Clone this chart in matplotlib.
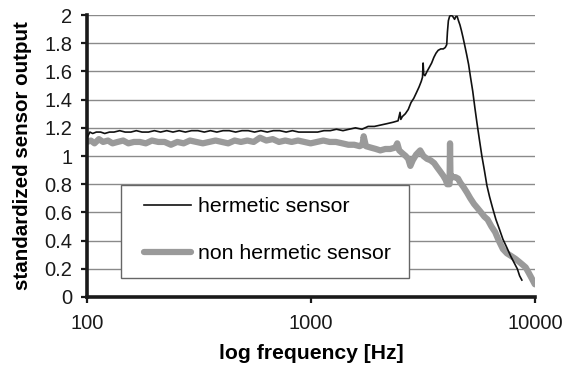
import matplotlib
matplotlib.use("Agg")
import matplotlib.pyplot as plt
from matplotlib.ticker import FixedLocator, NullLocator
from matplotlib.patches import Rectangle

plt.rcParams['font.family'] = ['Liberation Sans', 'DejaVu Sans']

# hermetic sensor (black)
herm_freq = [100, 103, 106, 110, 115, 120, 126, 132, 140, 148,
             157, 166, 176, 188, 200, 213, 227, 242, 258, 275,
             293, 313, 334, 356, 380, 405, 432, 461, 492, 525,
             560, 598, 638, 680, 726, 775, 827, 882, 941, 1004,
             1071, 1143, 1220, 1300, 1390, 1480, 1580, 1690, 1800, 1920,
             2050, 2190, 2330, 2450, 2500, 2520, 2560, 2640, 2720, 2800,
             2880, 2960, 3040, 3110, 3150, 3170, 3190, 3230, 3300, 3380,
             3460, 3540, 3620, 3700, 3800, 3900, 3980, 4040, 4070, 4110,
             4160, 4220, 4300, 4380, 4440, 4500, 4560, 4630, 4700, 4780,
             4870, 4960, 5060, 5160, 5280, 5400, 5520, 5650, 5800, 5950,
             6110, 6280, 6480, 6700, 6950, 7200, 7500, 7800, 8100, 8350,
             8550, 8750]
herm_vals = [1.13, 1.17, 1.16, 1.17, 1.17, 1.16, 1.17, 1.17, 1.18, 1.17,
             1.17, 1.18, 1.17, 1.17, 1.18, 1.17, 1.18, 1.17, 1.18, 1.17,
             1.18, 1.18, 1.17, 1.18, 1.17, 1.18, 1.18, 1.17, 1.18, 1.18,
             1.17, 1.18, 1.17, 1.18, 1.18, 1.17, 1.18, 1.17, 1.17, 1.17,
             1.17, 1.18, 1.18, 1.19, 1.18, 1.19, 1.20, 1.19, 1.21, 1.21,
             1.22, 1.23, 1.24, 1.25, 1.31, 1.26, 1.28, 1.30, 1.33, 1.38,
             1.41, 1.45, 1.49, 1.53, 1.56, 1.66, 1.58, 1.57, 1.60, 1.63,
             1.66, 1.70, 1.73, 1.75, 1.76, 1.76, 1.77, 1.79, 1.88, 1.96,
             1.99, 2.00, 1.99, 1.97, 1.99, 1.99, 1.96, 1.93, 1.89, 1.84,
             1.78, 1.72, 1.65, 1.56, 1.46, 1.34, 1.23, 1.12, 1.00, 0.90,
             0.79, 0.71, 0.63, 0.55, 0.48, 0.41, 0.35, 0.29, 0.24, 0.20,
             0.15, 0.12]

# non hermetic sensor (gray)
nonh_freq = [100, 104, 108, 113, 118, 124, 130, 137, 145, 153,
             162, 172, 183, 195, 208, 222, 237, 253, 270, 288,
             308, 329, 351, 375, 400, 427, 456, 487, 520, 555,
             592, 632, 675, 720, 768, 820, 875, 934, 997, 1064,
             1136, 1212, 1293, 1380, 1470, 1560, 1650, 1700, 1720, 1760,
             1850, 1950, 2040, 2150, 2260, 2380, 2430, 2480, 2560, 2650,
             2720, 2780, 2850, 2950, 3075, 3180, 3300, 3420, 3550, 3660,
             3780, 3900, 4000, 4060, 4120, 4160, 4180, 4200, 4240, 4320,
             4420, 4540, 4650, 4800, 4980, 5150, 5350, 5550, 5750, 5950,
             6150, 6400, 6650, 6900, 7200, 7500, 7850, 8200, 8500, 8800,
             9100, 9400, 9700, 10000]
nonh_vals = [1.10, 1.11, 1.09, 1.12, 1.10, 1.11, 1.09, 1.10, 1.11, 1.09,
             1.10, 1.10, 1.09, 1.11, 1.10, 1.10, 1.08, 1.10, 1.09, 1.11,
             1.10, 1.09, 1.10, 1.11, 1.10, 1.09, 1.11, 1.10, 1.11, 1.10,
             1.13, 1.11, 1.12, 1.10, 1.11, 1.10, 1.11, 1.10, 1.09, 1.10,
             1.11, 1.10, 1.10, 1.09, 1.08, 1.08, 1.07, 1.08, 1.14, 1.07,
             1.06, 1.05, 1.04, 1.05, 1.05, 1.06, 1.09, 1.04, 1.02, 1.00,
             0.98, 0.93, 0.97, 1.01, 1.04, 1.00, 0.98, 0.97, 0.95, 0.92,
             0.89, 0.86, 0.83, 0.80, 0.80, 0.80, 1.09, 0.84, 0.86, 0.85,
             0.85, 0.84, 0.81, 0.78, 0.74, 0.70, 0.66, 0.63, 0.60, 0.57,
             0.55, 0.50, 0.46, 0.40, 0.34, 0.31, 0.29, 0.27, 0.25, 0.23,
             0.21, 0.17, 0.13, 0.09]

y_ticks = [0, 0.2, 0.4, 0.6, 0.8, 1.0, 1.2, 1.4, 1.6, 1.8, 2.0]
y_labels = ['0', '0.2', '0.4', '0.6', '0.8', '1', '1.2', '1.4', '1.6', '1.8', '2']
x_ticks = [100, 1000, 10000]
x_labels = ['100', '1000', '10000']

fig = plt.figure(figsize=(5.64, 3.68), dpi=100)
ax = fig.add_axes([0.1543, 0.193, 0.794, 0.766])

for yv in y_ticks[1:]:
    ax.axhline(yv, color='#8a8a8a', lw=1.0, zorder=1)

ln2, = ax.plot(nonh_freq, nonh_vals, color='#9a9a9a', lw=4.5, solid_capstyle='round',
               solid_joinstyle='round', zorder=2)
ln1, = ax.plot(herm_freq, herm_vals, color='#111111', lw=1.2, zorder=3)

ax.set_xscale('log')
ax.set_xlim(100, 10000)
ax.set_ylim(0, 2)
ax.xaxis.set_major_locator(FixedLocator(x_ticks))
ax.xaxis.set_minor_locator(NullLocator())
ax.set_xticklabels(x_labels)
ax.set_yticks(y_ticks)
ax.set_yticklabels(y_labels)

for s in ['top', 'right']:
    ax.spines[s].set_visible(False)
for s in ['left', 'bottom']:
    ax.spines[s].set_linewidth(2.6)
    ax.spines[s].set_color('#1a1a1a')

ax.tick_params(axis='both', direction='out', length=4.5, width=1.6, labelsize=14.5, colors='#1a1a1a')
ax.tick_params(axis='y', pad=6)
ax.tick_params(axis='x', pad=8)
ax.set_xlabel('log frequency [Hz]', fontsize=15.2, fontweight='bold', labelpad=8)
ax.set_ylabel('standardized sensor output', fontsize=14.8, fontweight='bold', labelpad=9)

# legend frame
ax.add_patch(Rectangle((0.0757, 0.067), 0.643, 0.33, transform=ax.transAxes,
                       facecolor='white', edgecolor='#666666', lw=1.0, zorder=5))
leg = ax.legend([ln1, ln2], ['hermetic sensor', 'non hermetic sensor'],
                loc='upper left', bbox_to_anchor=(0.127, 0.354),
                fontsize=15.3, frameon=False, borderaxespad=0, borderpad=0,
                handlelength=2.2, handletextpad=0.33, labelspacing=1.33)
leg.set_zorder(6)

fig.savefig('out.png', dpi=100)
